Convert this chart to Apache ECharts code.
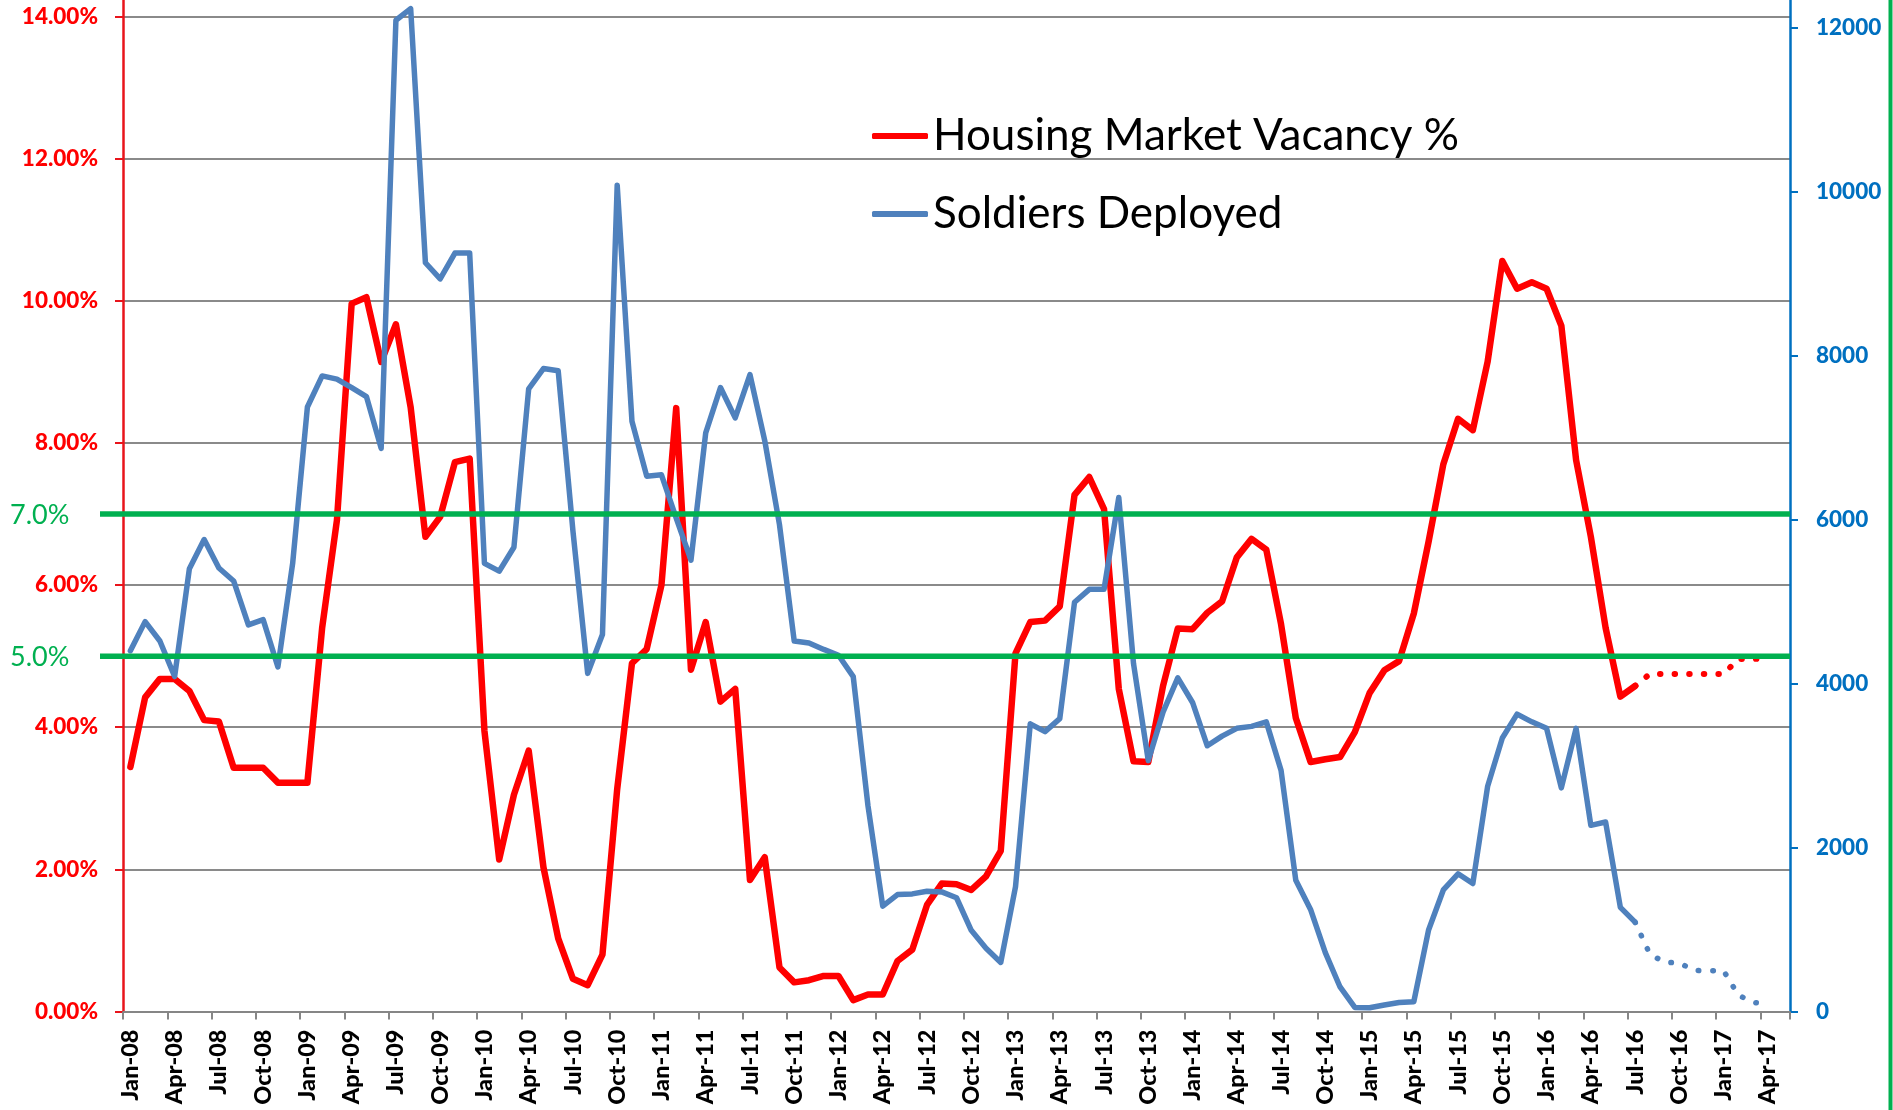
<!DOCTYPE html>
<html>
<head>
<meta charset="utf-8">
<title>Housing Market Vacancy and Soldiers Deployed</title>
<script src="https://cdn.jsdelivr.net/npm/echarts@6/dist/echarts.min.js"></script>
<style>
  html, body { margin: 0; padding: 0; background: #ffffff; }
  #chart { width: 1893px; height: 1110px; }
</style>
</head>
<body>
<div id="chart"></div>
<script>
// Month axis: Jan-08 through May-17
const MONTHS = ['Jan', 'Feb', 'Mar', 'Apr', 'May', 'Jun', 'Jul', 'Aug', 'Sep', 'Oct', 'Nov', 'Dec'];
const YEARS = ['08', '09', '10', '11', '12', '13', '14', '15', '16', '17'];
const MONTH_COUNT = 113;

// Housing market vacancy (%), Jan-08 .. Jul-16
const vacancyPct = [
  3.44, 4.42, 4.68, 4.68, 4.51, 4.10, 4.08, 3.43, 3.43, 3.43, 3.22, 3.22,   // 2008
  3.22, 5.40, 6.91, 9.96, 10.05, 9.14, 9.67, 8.50, 6.68, 6.96, 7.73, 7.78,  // 2009
  3.95, 2.14, 3.05, 3.67, 2.03, 1.03, 0.46, 0.37, 0.80, 3.13, 4.90, 5.10,   // 2010
  6.00, 8.49, 4.81, 5.48, 4.36, 4.54, 1.85, 2.17, 0.62, 0.41, 0.44, 0.50,   // 2011
  0.50, 0.16, 0.24, 0.24, 0.71, 0.87, 1.50, 1.80, 1.79, 1.71, 1.90, 2.26,   // 2012
  5.04, 5.48, 5.50, 5.70, 7.27, 7.52, 7.07, 4.54, 3.52, 3.51, 4.58, 5.39,   // 2013
  5.38, 5.61, 5.77, 6.39, 6.65, 6.50, 5.45, 4.13, 3.51, 3.55, 3.58, 3.93,   // 2014
  4.48, 4.80, 4.93, 5.60, 6.61, 7.70, 8.34, 8.18, 9.14, 10.56, 10.17, 10.26, // 2015
  10.17, 9.65, 7.76, 6.68, 5.40, 4.43, 4.58                                 // 2016
];
// Projected vacancy (%), Jul-16 .. Apr-17
const vacancyProjected = [4.58, 4.75, 4.75, 4.75, 4.75, 4.75, 4.75, 4.96, 4.96, 4.97];

// Soldiers deployed, Jan-08 .. Jul-16
const soldiers = [
  4399, 4754, 4518, 4084, 5400, 5755, 5408, 5250, 4714, 4778, 4202, 5463,      // 2008
  7371, 7750, 7711, 7608, 7498, 6867, 12087, 12229, 9130, 8933, 9248, 9248,     // 2009
  5464, 5369, 5661, 7593, 7840, 7813, 5858, 4123, 4596, 10076, 7198, 6528,      // 2010
  6544, 6015, 5503, 7056, 7608, 7238, 7766, 6962, 5937, 4517, 4494, 4415,      // 2011
  4344, 4084, 2507, 1284, 1426, 1434, 1466, 1458, 1387, 990, 772, 598,         // 2012
  1521, 3508, 3413, 3571, 4990, 5148, 5148, 6268, 4241, 3059, 3650, 4068,      // 2013
  3768, 3240, 3358, 3453, 3477, 3532, 2940, 1600, 1245, 717, 299, 50,          // 2014
  45, 80, 110, 120, 993, 1482, 1679, 1560, 2743, 3335, 3626, 3532,             // 2015
  3453, 2727, 3453, 2270, 2310, 1270, 1090                                     // 2016
];
// Projected soldiers deployed, Jul-16 .. Apr-17
const soldiersProjected = [1090, 700, 600, 593, 500, 496, 496, 200, 110, 97];

// Reference bands on the vacancy axis
const vacancyThresholds = [
  { value: 7, label: '7.0%' },
  { value: 5, label: '5.0%' }
];

const SERIES_NAMES = ['Housing Market Vacancy %', 'Soldiers Deployed'];

const categories = [];
YEARS.forEach(y => MONTHS.forEach(m => categories.push(m + '-' + y)));
categories.length = MONTH_COUNT;

// Projection series start where the recorded series ends
const projectionStart = vacancyPct.length - 1;
const pad = n => new Array(n).fill(null);
const vacancyProjectedData = pad(projectionStart).concat(vacancyProjected);
const soldiersProjectedData = pad(projectionStart).concat(soldiersProjected);

const RED = '#FF0000';
const BLUE = '#4F81BD';
const GREEN = '#00B050';
const AXIS_BLUE = '#0070C0';
const GRID_GREY = '#8A8A8A';
const FONT = 'Lato, "Open Sans", sans-serif';

// Plot area: the frame runs slightly past the top edge of the canvas
const GRID = { left: 123, right: 103, top: -4, bottom: 98.5 };
const plotHeight = 1110 - GRID.top - GRID.bottom;
const PCT_PER_PX = 1 / 71.07;
const SOLDIERS_PER_PX = 1 / 0.08201;
const leftMax = plotHeight * PCT_PER_PX;
const rightMax = plotHeight * SOLDIERS_PER_PX;

const chart = echarts.init(document.getElementById('chart'), null, { renderer: 'canvas' });

const dotted = [0.5, 14.1];

chart.setOption({
  animation: false,
  backgroundColor: '#ffffff',
  textStyle: { fontFamily: FONT },
  grid: Object.assign({ outerBoundsMode: 'none', containLabel: false }, GRID),
  legend: {
    data: SERIES_NAMES,
    orient: 'vertical',
    left: 867,
    top: 109,
    itemWidth: 56,
    itemHeight: 6,
    itemGap: 34,
    icon: 'roundRect',
    textStyle: { fontFamily: FONT, fontSize: 44, color: '#000000' },
    selectedMode: false
  },
  xAxis: {
    type: 'category',
    data: categories,
    boundaryGap: true,
    axisLine: { show: true, lineStyle: { color: '#868686', width: 2 } },
    axisTick: { show: true, interval: 2, length: 8, lineStyle: { color: '#868686', width: 2 } },
    axisLabel: {
      interval: 2,
      rotate: 90,
      margin: 18,
      color: '#000000',
      fontFamily: FONT,
      fontWeight: 900,
      fontSize: 23.5
    },
    splitLine: { show: false }
  },
  yAxis: [
    {
      type: 'value',
      min: 0,
      max: leftMax,
      interval: 2,
      position: 'left',
      axisLine: { show: true, lineStyle: { color: '#E8141B', width: 2.5 } },
      axisTick: { show: true, length: 8, lineStyle: { color: '#E8141B', width: 2 } },
      axisLabel: {
        showMaxLabel: false,
        margin: 25,
        color: RED,
        fontFamily: FONT,
        fontWeight: 900,
        fontSize: 22.5,
        formatter: v => (Math.abs(v / 2 - Math.round(v / 2)) < 1e-6 ? v.toFixed(2) + '%' : '')
      },
      splitLine: { show: true, lineStyle: { color: GRID_GREY, width: 2 } }
    },
    {
      type: 'value',
      min: 0,
      max: rightMax,
      interval: 2000,
      position: 'right',
      axisLine: { show: true, lineStyle: { color: AXIS_BLUE, width: 2.5 } },
      axisTick: { show: true, length: 8, lineStyle: { color: AXIS_BLUE, width: 2 } },
      axisLabel: {
        showMaxLabel: false,
        margin: 26,
        color: AXIS_BLUE,
        fontFamily: FONT,
        fontWeight: 900,
        fontSize: 22.5,
        formatter: v => (v % 2000 === 0 ? String(v) : '')
      },
      splitLine: { show: false }
    }
  ],
  series: [
    {
      name: SERIES_NAMES[0],
      type: 'line',
      yAxisIndex: 0,
      data: vacancyPct,
      symbol: 'none',
      itemStyle: { color: RED },
      lineStyle: { color: RED, width: 6.5, join: 'round', cap: 'round' },
      z: 3
    },
    {
      name: SERIES_NAMES[0],
      type: 'line',
      yAxisIndex: 0,
      data: vacancyProjectedData,
      symbol: 'none',
      itemStyle: { color: RED },
      lineStyle: { color: RED, width: 6, type: dotted, cap: 'round' },
      z: 3
    },
    {
      name: SERIES_NAMES[1],
      type: 'line',
      yAxisIndex: 1,
      data: soldiers,
      symbol: 'none',
      itemStyle: { color: BLUE },
      lineStyle: { color: BLUE, width: 5.5, join: 'round', cap: 'round' },
      z: 4
    },
    {
      name: SERIES_NAMES[1],
      type: 'line',
      yAxisIndex: 1,
      data: soldiersProjectedData,
      symbol: 'none',
      itemStyle: { color: BLUE },
      lineStyle: { color: BLUE, width: 5.5, type: dotted, cap: 'round' },
      z: 4
    }
  ]
});

// Threshold lines and their labels, placed through the vacancy axis scale
const plotRight = 1893 - GRID.right;
const graphics = [];
vacancyThresholds.forEach(t => {
  const y = chart.convertToPixel({ yAxisIndex: 0 }, t.value);
  graphics.push({
    type: 'line',
    z: 100,
    shape: { x1: 100, y1: y, x2: plotRight, y2: y },
    style: { stroke: GREEN, lineWidth: 5.5 }
  });
  graphics.push({
    type: 'text',
    z: 100,
    x: 10,
    y: y + 1,
    style: {
      text: t.label,
      fill: GREEN,
      font: '27px ' + FONT,
      verticalAlign: 'middle',
      align: 'left'
    }
  });
});
// Border stripe on the right edge
graphics.push({
  type: 'rect',
  z: 100,
  shape: { x: 1888.5, y: 0, width: 4, height: 1110 },
  style: { fill: GREEN }
});
chart.setOption({ graphic: graphics });
</script>
</body>
</html>
